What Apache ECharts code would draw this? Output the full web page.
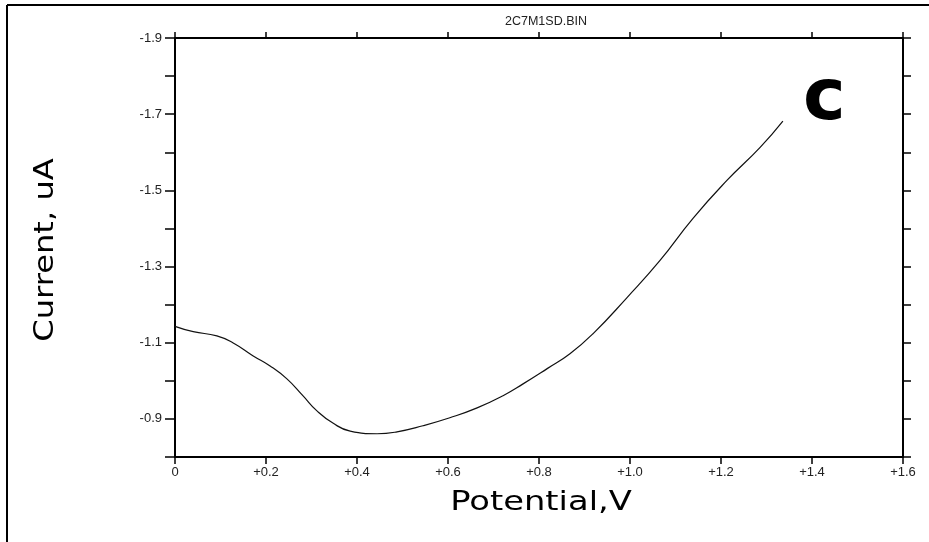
<!DOCTYPE html>
<html>
<head>
<meta charset="utf-8">
<script src="https://cdn.jsdelivr.net/npm/echarts@6/dist/echarts.min.js"></script>
<style>
  html, body { margin: 0; padding: 0; background: #fff; }
  #chart { width: 929px; height: 542px; }
</style>
</head>
<body>
<div id="chart"></div>
<script>
var potential = [0.0, 0.04, 0.092, 0.127, 0.171, 0.209, 0.246, 0.281, 0.312, 0.347, 0.385, 0.444,
  0.488, 0.545, 0.604, 0.664, 0.721, 0.765, 0.818, 0.868, 0.919, 0.993, 1.066, 1.138, 1.213, 1.286, 1.336];
var current = [-1.143, -1.129, -1.118, -1.100, -1.066, -1.039, -1.005, -0.961, -0.921, -0.889, -0.868, -0.861,
  -0.866, -0.882, -0.903, -0.929, -0.961, -0.992, -1.032, -1.071, -1.124, -1.218, -1.316, -1.426, -1.526, -1.613, -1.682];
var fileTitle = '2C7M1SD.BIN';
var panelLetter = 'c';
var xName = 'Potential,V';
var yName = 'Current, uA';

var points = potential.map(function (v, i) { return [v, current[i]]; });

var chart = echarts.init(document.getElementById('chart'));

var lineStyle = { color: '#000', width: 2 };
var tickStyle = { color: '#000', width: 1.5 };
var font = 'Liberation Sans, Arial, sans-serif';
var bigFont = '27px "DejaVu Sans", sans-serif';

var option = {
  animation: false,
  backgroundColor: '#fff',
  title: {
    text: fileTitle,
    left: 541,
    textAlign: 'center',
    top: 10,
    textStyle: { fontSize: 12.5, fontWeight: 'normal', color: '#222', fontFamily: font }
  },
  grid: { left: 175, right: 26, top: 38, bottom: 85 },
  xAxis: [
    {
      type: 'value', position: 'bottom', min: 0, max: 1.6, interval: 0.2,
      axisLine: { onZero: false, lineStyle: lineStyle },
      axisTick: { inside: false, length: 7, lineStyle: tickStyle },
      axisLabel: {
        margin: 9, fontSize: 13, color: '#222', fontFamily: font,
        formatter: function (v) { return v === 0 ? '0' : '+' + v.toFixed(1); }
      },
      splitLine: { show: false }
    },
    {
      type: 'value', position: 'top', min: 0, max: 1.6, interval: 0.2,
      axisLine: { onZero: false, lineStyle: lineStyle },
      axisTick: { inside: false, length: 6, lineStyle: tickStyle },
      axisLabel: { show: false },
      splitLine: { show: false }
    }
  ],
  yAxis: [
    {
      type: 'value', position: 'left', inverse: true, min: -1.9, max: -0.8, interval: 0.1,
      axisLine: { onZero: false, lineStyle: lineStyle },
      axisTick: { inside: false, length: 10, lineStyle: tickStyle },
      axisLabel: {
        margin: 13, fontSize: 13, color: '#222', fontFamily: font,
        formatter: function (v) {
          return Math.round(Math.abs(v) * 10) % 2 === 1 ? v.toFixed(1) : '';
        }
      },
      splitLine: { show: false }
    },
    {
      type: 'value', position: 'right', inverse: true, min: -1.9, max: -0.8, interval: 0.1,
      axisLine: { onZero: false, lineStyle: lineStyle },
      axisTick: { inside: false, length: 8, lineStyle: tickStyle },
      axisLabel: { show: false },
      splitLine: { show: false }
    }
  ],
  graphic: [
    { type: 'line', shape: { x1: 7, y1: 5, x2: 929, y2: 5 }, style: { stroke: '#000', lineWidth: 2 } },
    { type: 'line', shape: { x1: 7, y1: 5, x2: 7, y2: 542 }, style: { stroke: '#000', lineWidth: 2 } },
    {
      type: 'text', x: 541, y: 503, scaleX: 1.25,
      style: { text: xName, font: bigFont, fill: '#000', align: 'center', verticalAlign: 'middle' }
    },
    {
      type: 'text', x: 46, y: 250, rotation: Math.PI / 2, scaleX: 1.19,
      style: { text: yName, font: bigFont, fill: '#000', align: 'center', verticalAlign: 'middle' }
    },
    {
      type: 'text', left: 803, top: 64,
      style: { text: panelLetter, font: '900 72px "DejaVu Sans", sans-serif', fill: '#000' }
    }
  ],
  series: [
    {
      type: 'line',
      xAxisIndex: 0,
      yAxisIndex: 0,
      data: points,
      smooth: true,
      showSymbol: false,
      lineStyle: { color: '#111', width: 1.2 }
    }
  ]
};

chart.setOption(option);
</script>
</body>
</html>
